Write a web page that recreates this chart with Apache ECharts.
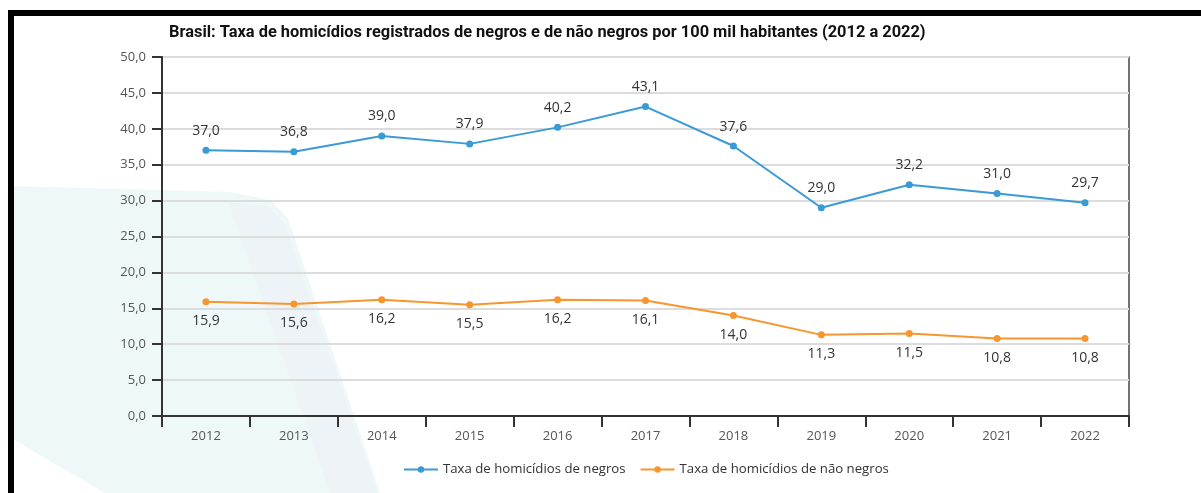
<!DOCTYPE html>
<html>
<head>
<meta charset="utf-8">
<script src="https://cdn.jsdelivr.net/npm/echarts@6/dist/echarts.min.js"></script>
<style>
html,body{margin:0;padding:0;background:#fff;}
#chart{width:1201px;height:493px;}
</style>
</head>
<body>
<div id="chart"></div>
<script>
const titleText = 'Brasil: Taxa de homicídios registrados de negros e de não negros por 100 mil habitantes (2012 a 2022)';
const categories = ['2012','2013','2014','2015','2016','2017','2018','2019','2020','2021','2022'];
const seriesNames = ['Taxa de homicídios de negros', 'Taxa de homicídios de não negros'];
const negros = [37.0, 36.8, 39.0, 37.9, 40.2, 43.1, 37.6, 29.0, 32.2, 31.0, 29.7];
const naoNegros = [15.9, 15.6, 16.2, 15.5, 16.2, 16.1, 14.0, 11.3, 11.5, 10.8, 10.8];

const fmt = v => Number(v).toFixed(1).replace('.', ',');
const font = '"Open Sans", "Noto Sans", sans-serif';
const blue = '#3a9ad6', orange = '#f7962f';
const chart = echarts.init(document.getElementById('chart'), null, {renderer: 'canvas'});

chart.setOption({
  backgroundColor: '#ffffff',
  animation: false,
  graphic: [
    {type: 'polygon', z: -10, silent: true,
      shape: {points: [[14,186],[230,192],[270,200],[288,218],[380,493],[105,493],[14,440]]},
      style: {fill: '#eff8f9'}},
    {type: 'polygon', z: -9, silent: true,
      shape: {points: [[228,202],[268,206],[284,222],[378,493],[330,493]]},
      style: {fill: '#eef3f7'}},
    {type: 'rect', z: 10, silent: true, shape: {x: 8, y: 10, width: 1193, height: 6}, style: {fill: '#000'}},
    {type: 'rect', z: 10, silent: true, shape: {x: 8, y: 10, width: 6, height: 483}, style: {fill: '#000'}}
  ],
  title: {
    text: titleText,
    left: 164, top: 20,
    textStyle: {fontFamily: 'Roboto, sans-serif', fontWeight: 'bold', fontSize: 16.4, color: '#111'}
  },
  legend: {
    bottom: 12, left: 398,
    itemWidth: 34, itemHeight: 8, itemGap: 14,
    textStyle: {fontFamily: font, fontSize: 13.2, color: '#333'},
    data: seriesNames
  },
  grid: {left: 162, right: 72, top: 57, bottom: 77, show: true, borderColor: '#444', borderWidth: 1.5, backgroundColor: 'transparent'},
  xAxis: {
    type: 'category', data: categories, boundaryGap: true,
    axisLine: {lineStyle: {color: '#333', width: 2}},
    axisTick: {show: true, length: 11, lineStyle: {color: '#333', width: 2}},
    axisLabel: {margin: 14, fontFamily: font, fontSize: 13, color: '#555'}
  },
  yAxis: {
    type: 'value', min: 0, max: 50, interval: 5,
    axisLine: {show: true, lineStyle: {color: '#333', width: 2}},
    axisTick: {show: true, length: 10, lineStyle: {color: '#333', width: 2}},
    axisLabel: {margin: 16, fontFamily: font, fontSize: 13, color: '#555', formatter: fmt},
    splitLine: {lineStyle: {color: '#dcdcdc', width: 2}}
  },
  series: [
    {name: seriesNames[0], type: 'line', data: negros,
      itemStyle: {color: blue}, lineStyle: {color: blue, width: 2},
      symbol: 'circle', symbolSize: 7,
      label: {show: true, position: 'top', distance: 9, fontFamily: font, fontSize: 14, color: '#333', formatter: p => fmt(p.value)}},
    {name: seriesNames[1], type: 'line', data: naoNegros,
      itemStyle: {color: orange}, lineStyle: {color: orange, width: 2},
      symbol: 'circle', symbolSize: 7,
      label: {show: true, position: 'bottom', distance: 9, fontFamily: font, fontSize: 14, color: '#333', formatter: p => fmt(p.value)}}
  ]
});
</script>
</body>
</html>
